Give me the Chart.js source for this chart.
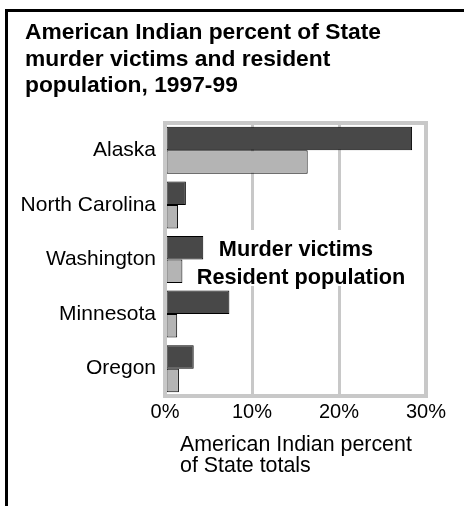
<!DOCTYPE html>
<html>
<head>
<meta charset="utf-8">
<script src="https://cdn.jsdelivr.net/npm/chart.js@4.4.1/dist/chart.umd.min.js"></script>
<style>
  html, body { margin: 0; padding: 0; background: #fff; }
  #wrap { position: relative; width: 464px; height: 506px; overflow: hidden; }
  #frame { position: absolute; left: 5px; top: 9px; width: 600px; height: 600px;
           border-left: 3px solid #000; border-top: 3px solid #000; }
  canvas { position: absolute; left: 0; top: 0; }
</style>
</head>
<body>
<div id="wrap">
  <div id="frame"></div>
  <canvas id="chart" width="464" height="506"></canvas>
</div>
<script>
// --- DATA ---
const states = ['Alaska', 'North Carolina', 'Washington', 'Minnesota', 'Oregon'];
const murderVictims = [28.4, 2.4, 4.4, 7.4, 3.3];
const residentPopulation = [16.4, 1.5, 2.0, 1.4, 1.6];
const xTickValues = [0, 10, 20, 30];
const titleLines = ['American Indian percent of State', 'murder victims and resident', 'population, 1997-99'];
const axisTitleLines = ['American Indian percent', 'of State totals'];

const FONT = "'Liberation Sans', Arial, Helvetica, sans-serif";
const GRID = '#c8c8c8';

// title, plot frame, boxed legend text and the two-line axis title
const overlay = {
    id: 'overlay',
    afterDatasetsDraw(chart) {
        const { ctx, chartArea: a } = chart;
        ctx.save();
        ctx.strokeStyle = GRID;
        ctx.lineWidth = 4;
        ctx.strokeRect(a.left, a.top, a.right - a.left, a.bottom - a.top);

        // legend: plain bold labels, each on its own white patch
        ctx.font = 'bold 21.7px ' + FONT;
        ctx.textAlign = 'center';
        ctx.textBaseline = 'alphabetic';
        const rows = chart.data.datasets.map((ds, i) => ({
            text: ds.label,
            x: a.left + [131, 136][i],
            y: a.top + [133, 161][i]
        }));
        rows.forEach((r, i) => {
            const w = ctx.measureText(r.text).width;
            const top = i === 0 ? r.y - 26 : rows[0].y + 6;
            const bottom = i === 0 ? r.y + 6 : r.y + 2;
            ctx.fillStyle = '#fff';
            ctx.fillRect(r.x - w / 2 - 4, top, w + 8, bottom - top);
        });
        ctx.fillStyle = '#000';
        rows.forEach(r => ctx.fillText(r.text, r.x, r.y));

        // x axis title, left aligned lines
        ctx.font = '21.4px ' + FONT;
        ctx.textAlign = 'left';
        axisTitleLines.forEach((t, i) => ctx.fillText(t, a.left + 15, a.bottom + 55 + i * 21));

        // chart title
        ctx.font = 'bold 22.8px ' + FONT;
        titleLines.forEach((t, i) => ctx.fillText(t, 25, 39 + i * 26.5));
        ctx.restore();
    }
};

const ctx = document.getElementById('chart').getContext('2d');
new Chart(ctx, {
    type: 'bar',
    data: {
        labels: states,
        datasets: [
            { label: 'Murder victims', data: murderVictims, backgroundColor: '#484848' },
            { label: 'Resident population', data: residentPopulation, backgroundColor: '#b4b4b4' }
        ]
    },
    options: {
        indexAxis: 'y',
        responsive: false,
        animation: false,
        layout: { padding: { left: 0, right: 38, top: 123, bottom: 78 } },
        datasets: {
            bar: {
                categoryPercentage: 0.86,
                barPercentage: 1.0,
                borderColor: '#000',
                borderWidth: 1,
                borderSkipped: false
            }
        },
        plugins: {
            legend: { display: false },
            tooltip: { enabled: false },
            title: { display: false }
        },
        scales: {
            x: {
                min: 0,
                max: 30,
                afterBuildTicks: s => { s.ticks = xTickValues.map(v => ({ value: v })); },
                grid: { color: GRID, lineWidth: 3, drawTicks: false },
                border: { display: false },
                ticks: {
                    color: '#000',
                    padding: 4,
                    font: { family: FONT, size: 20 },
                    callback: v => v + '%'
                }
            },
            y: {
                afterFit: s => { s.width = 165; },
                grid: { display: false, drawTicks: false },
                border: { display: false },
                ticks: {
                    color: '#000',
                    padding: 9,
                    font: { family: FONT, size: 21 }
                }
            }
        }
    },
    plugins: [overlay]
});
</script>
</body>
</html>
